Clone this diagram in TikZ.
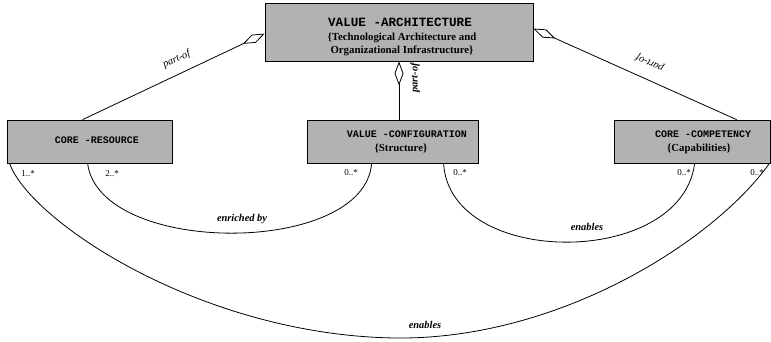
\documentclass[tikz,border=0pt]{standalone}
\usepackage{fontspec}
\setmainfont{Liberation Serif}
\setmonofont{Liberation Mono}
\usetikzlibrary{arrows.meta,calc}
\begin{document}
\begin{tikzpicture}[x=1pt,y=-1pt,
 box/.style={draw=black, line width=0.8pt, fill=black!30, inner sep=0pt},
 ttl/.style={font=\ttfamily\bfseries\fontsize{10}{12}\selectfont, inner sep=0pt},
 ttlbig/.style={font=\ttfamily\bfseries\fontsize{12.6}{14}\selectfont, inner sep=0pt},
 sub/.style={font=\bfseries\fontsize{10.8}{13}\selectfont, align=center, inner sep=0pt},
 lbl/.style={font=\bfseries\itshape\fontsize{10.4}{12}\selectfont, inner sep=0pt},
 plbl/.style={font=\itshape\fontsize{10.4}{12}\selectfont, inner sep=0pt},
 mult/.style={font=\fontsize{9}{10}\selectfont, inner sep=0pt},
 agg/.style={line width=0.8pt, -{Diamond[open,length=24pt,width=9pt]}},
 link/.style={line width=0.8pt}]
\useasboundingbox (0,0) rectangle (771,341);

% boxes
\node[box, minimum width=268pt, minimum height=58pt] (va) at (399,32) {};
\node[box, minimum width=165pt, minimum height=43pt] (cr) at (89.5,141.5) {};
\node[box, minimum width=171pt, minimum height=43pt] (vc) at (392.5,141.5) {};
\node[box, minimum width=156pt, minimum height=43pt] (cc) at (692,141.5) {};

% box texts
\node[ttlbig] (vat) at (400,22) {VALUE -ARCHITECTURE};
\node[sub] (vas) at (402,44) {\{Technological Architecture and\\Organizational Infrastructure\}};
\node[ttl] (crt) at (97,140) {CORE -RESOURCE};
\node[ttl] (vct) at (407,134) {VALUE -CONFIGURATION};
\node[sub] (vcs) at (401,148) {\{Structure\}};
\node[ttl] (cct) at (703,134) {CORE -COMPETENCY};
\node[sub] (ccs) at (699,149) {\{Capabilities\}};

% aggregation links
\draw[agg] ([xshift=76pt]cr.north west) -- node[plbl, pos=0.55, sloped, above=9pt] {part-of} ([yshift=-31pt]va.north west);
\draw[agg] ([xshift=123pt]cc.north west) -- ([yshift=-26pt]va.north east);
\node[plbl, rotate=156] (pr) at (650,63) {part-of};
\draw[agg] (vc.north -| va.south) -- (va.south);
\node[lbl, rotate=90] (pc) at (415,78) {part-of};

% associations
\draw[link] ([xshift=81pt]cr.south west) .. controls +(12,93) and +(-7,93) .. ([xshift=65pt]vc.south west);
\node[lbl] (eb) at (242,219) {enriched by};
\draw[link] ([xshift=137pt]vc.south west) .. controls +(6,105) and +(-13,105) .. ([xshift=81pt]cc.south west);
\node[lbl] (en1) at (587,227) {enables};
\draw[link] ([xshift=3pt]cr.south west) .. controls +(20,57) and (200,335) .. (395,338)
   .. controls (560,340) and (715,240) .. ([xshift=-1pt]cc.south east);
\node[lbl] (en2) at (425,325) {enables};

% multiplicities
\node[mult] (m1) at (28,174) {1..*};
\node[mult] (m2) at (112,174) {2..*};
\node[mult] (m3) at (351,173) {0..*};
\node[mult] (m4) at (460,173) {0..*};
\node[mult] (m5) at (684,173) {0..*};
\node[mult] (m6) at (757,173) {0..*};
\end{tikzpicture}
\end{document}
